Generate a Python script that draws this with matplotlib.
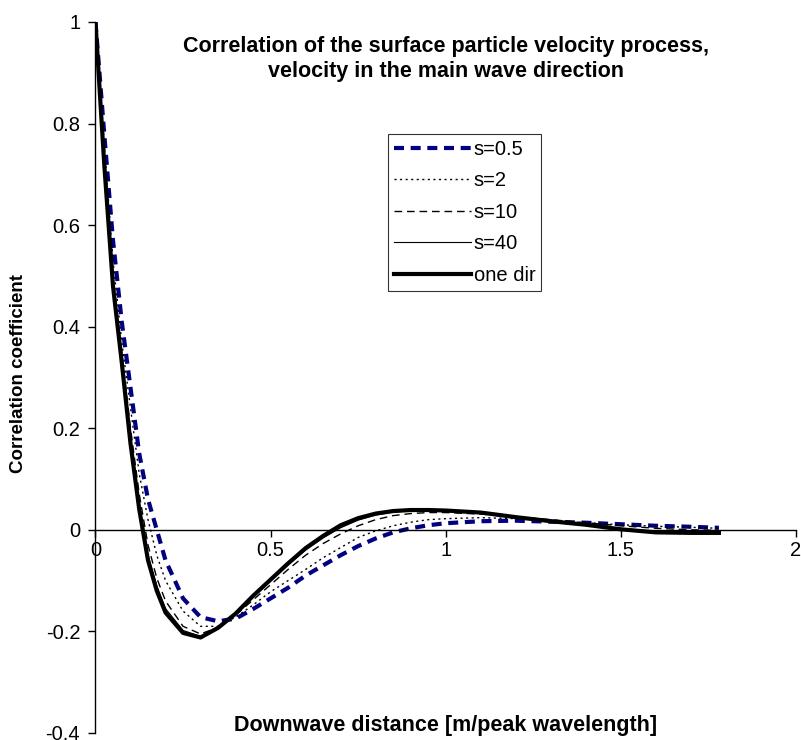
import numpy as np
from matplotlib import pyplot as plt

plt.rcParams['font.family'] = ['Liberation Sans', 'DejaVu Sans']
plt.rcParams['axes.unicode_minus'] = False

# downwave distance [m/peak wavelength]
dist = [0, 0.025, 0.05, 0.075, 0.1, 0.125, 0.15, 0.175, 0.2, 0.25, 0.3, 0.35,
        0.4, 0.45, 0.5, 0.55, 0.6, 0.65, 0.7, 0.75, 0.8, 0.85, 0.9, 0.95, 1.0,
        1.1, 1.2, 1.3, 1.4, 1.5, 1.6, 1.7, 1.78]

s05 = [1.0, 0.78, 0.57, 0.41, 0.28, 0.15, 0.06, 0.0, -0.06, -0.135, -0.172, -0.18,
       -0.175, -0.156, -0.135, -0.114, -0.09, -0.07, -0.05, -0.032, -0.017, -0.005, 0.003, 0.009, 0.013,
       0.017, 0.018, 0.016, 0.014, 0.011, 0.008, 0.006, 0.004]
s2 = [1.0, 0.76, 0.53, 0.37, 0.24, 0.11, 0.02, -0.05, -0.10, -0.16, -0.19, -0.19,
      -0.172, -0.148, -0.122, -0.10, -0.078, -0.055, -0.035, -0.015, -0.002, 0.008, 0.015, 0.020, 0.022,
      0.024, 0.022, 0.018, 0.014, 0.010, 0.007, 0.005, 0.003]
s10 = [1.0, 0.74, 0.50, 0.35, 0.20, 0.07, -0.03, -0.095, -0.14, -0.19, -0.205, -0.192,
       -0.168, -0.138, -0.108, -0.078, -0.05, -0.027, -0.008, 0.008, 0.02, 0.028, 0.032, 0.034, 0.034,
       0.031, 0.026, 0.020, 0.014, 0.008, 0.003, 0.0, -0.001]
s40 = [1.0, 0.73, 0.49, 0.335, 0.18, 0.05, -0.05, -0.11, -0.155, -0.198, -0.21, -0.193,
       -0.166, -0.133, -0.10, -0.069, -0.04, -0.016, 0.004, 0.019, 0.029, 0.035, 0.037, 0.038, 0.037,
       0.033, 0.026, 0.018, 0.011, 0.003, -0.003, -0.005, -0.005]
onedir = [1.0, 0.72, 0.48, 0.33, 0.17, 0.04, -0.06, -0.12, -0.163, -0.203, -0.212, -0.193,
          -0.165, -0.13, -0.098, -0.066, -0.036, -0.012, 0.009, 0.023, 0.032, 0.037, 0.039, 0.039, 0.038,
          0.034, 0.025, 0.017, 0.010, 0.001, -0.005, -0.006, -0.006]

fig = plt.figure(figsize=(8.01, 7.40), dpi=100)
ax = fig.add_axes([0.1192, 0.0095, 0.8745, 0.9608])

ax.plot(dist, s05, color='#000080', lw=3, ls=(0, (2.4, 1.6)), label='s=0.5')
ax.plot(dist, s2, color='black', lw=1, ls=(0, (1.5, 2.5)), label='s=2')
ax.plot(dist, s10, color='black', lw=1, ls=(0, (5.5, 3.5)), label='s=10')
ax.plot(dist, s40, color='black', lw=0.8, label='s=40')
ax.plot(dist, onedir, color='black', lw=3, label='one dir')

ax.set_xlim(0, 2)
ax.set_ylim(-0.4, 1)
ax.spines['top'].set_visible(False)
ax.spines['right'].set_visible(False)
ax.spines['bottom'].set_position(('data', 0))
ax.spines['left'].set_linewidth(1)
ax.spines['bottom'].set_linewidth(1)

ax.set_xticks([0, 0.5, 1, 1.5, 2])
ax.set_xticklabels(['0', '0.5', '1', '1.5', '2'])
ax.set_yticks([-0.4, -0.2, 0, 0.2, 0.4, 0.6, 0.8, 1])
ax.set_yticklabels(['-0.4', '-0.2', '0', '0.2', '0.4', '0.6', '0.8', '1'])
ax.tick_params(axis='both', direction='out', length=5, width=1, labelsize=14.5)
ax.tick_params(axis='y', pad=6)
ax.tick_params(axis='x', pad=3)

ax.text(0.5, 0.948, 'Correlation of the surface particle velocity process,\nvelocity in the main wave direction',
        transform=ax.transAxes, ha='center', va='center', fontsize=15.5, fontweight='bold',
        linespacing=1.22)
fig.text(0.5565, 0.019, 'Downwave distance [m/peak wavelength]', ha='center', va='center',
         fontsize=15.5, fontweight='bold')
fig.text(0.023, 0.4946, 'Correlation coefficient', ha='center', va='center', rotation=90,
         fontsize=13.5, fontweight='bold')

leg = ax.legend(loc='upper left', bbox_to_anchor=(0.4176, 0.8425), fontsize=14.5, frameon=True,
                fancybox=False, edgecolor='black', handlelength=3.8, handletextpad=0.15,
                labelspacing=0.62, borderpad=0.3, borderaxespad=0)
leg.get_frame().set_linewidth(0.8)

fig.savefig('out.png', dpi=100)
